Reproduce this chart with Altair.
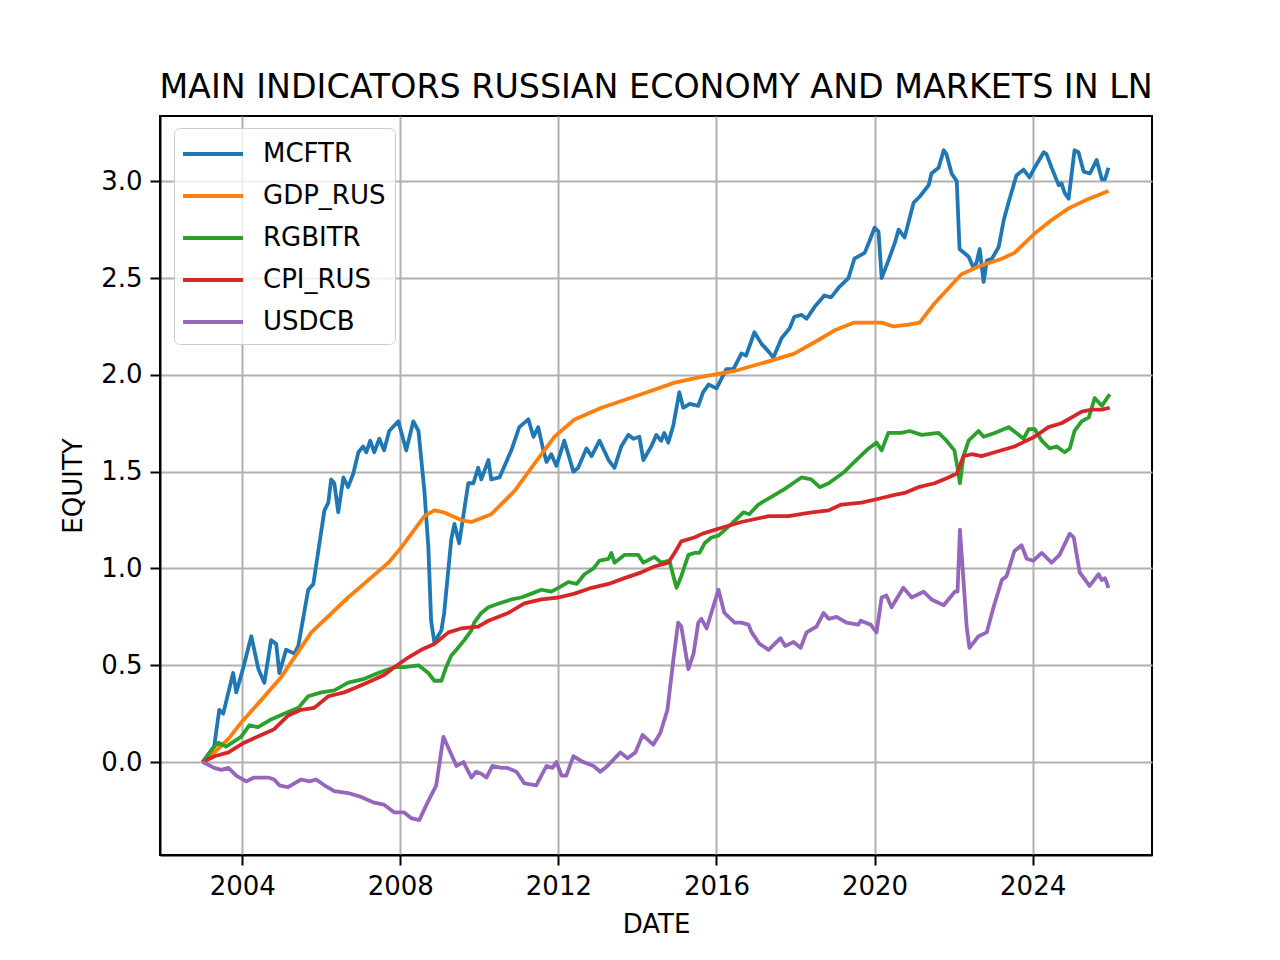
import altair as alt
import pandas as pd

SERIES = ["MCFTR", "GDP_RUS", "RGBITR", "CPI_RUS", "USDCB"]
COLORS = ["#1f77b4", "#ff7f0e", "#2ca02c", "#d62728", "#9467bd"]

MCFTR_X = [2003.0, 2003.29, 2003.42, 2003.52, 2003.77, 2003.85, 2004.03, 2004.23, 2004.41, 2004.56,
           2004.73, 2004.86, 2004.94, 2005.11, 2005.32, 2005.42, 2005.67, 2005.80, 2006.08, 2006.18,
           2006.25, 2006.33, 2006.43, 2006.56, 2006.68, 2006.81, 2006.94, 2007.06, 2007.14, 2007.24,
           2007.34, 2007.47, 2007.59, 2007.72, 2007.95, 2008.15, 2008.33, 2008.46, 2008.61, 2008.71,
           2008.78, 2008.86, 2009.04, 2009.11, 2009.29, 2009.37, 2009.49, 2009.72, 2009.85, 2009.97,
           2010.05, 2010.23, 2010.30, 2010.51, 2010.81, 2011.01, 2011.24, 2011.37, 2011.49, 2011.62,
           2011.70, 2011.82, 2011.95, 2012.15, 2012.38, 2012.50, 2012.71, 2012.84, 2013.04, 2013.27,
           2013.42, 2013.59, 2013.77, 2013.90, 2014.05, 2014.15, 2014.35, 2014.48, 2014.60, 2014.68,
           2014.78, 2014.91, 2015.06, 2015.16, 2015.32, 2015.54, 2015.66, 2015.80, 2016.0, 2016.25,
           2016.43, 2016.63, 2016.75, 2016.96, 2017.14, 2017.32, 2017.44, 2017.65, 2017.85, 2017.97,
           2018.15, 2018.28, 2018.48, 2018.73, 2018.90, 2019.09, 2019.34, 2019.49, 2019.75, 2019.87,
           2020.0, 2020.10, 2020.18, 2020.35, 2020.51, 2020.61, 2020.76, 2020.99, 2021.14, 2021.37,
           2021.44, 2021.62, 2021.75, 2021.82, 2021.95, 2022.08, 2022.15, 2022.38, 2022.51, 2022.58,
           2022.66, 2022.76, 2022.84, 2022.97, 2023.14, 2023.27, 2023.39, 2023.59, 2023.77, 2023.92,
           2024.05, 2024.28, 2024.35, 2024.48, 2024.66, 2024.73, 2024.81, 2024.91, 2025.06, 2025.16,
           2025.29, 2025.45, 2025.62, 2025.75, 2025.83, 2025.92]
MCFTR_Y = [0.0, 0.08, 0.27, 0.25, 0.46, 0.36, 0.49, 0.65, 0.48, 0.41,
           0.63, 0.61, 0.46, 0.58, 0.56, 0.60, 0.89, 0.92, 1.30, 1.34,
           1.46, 1.44, 1.29, 1.47, 1.42, 1.49, 1.60, 1.63, 1.60, 1.66,
           1.60, 1.67, 1.61, 1.71, 1.76, 1.61, 1.76, 1.71, 1.40, 1.11,
           0.73, 0.62, 0.68, 0.77, 1.15, 1.23, 1.13, 1.44, 1.44, 1.52,
           1.46, 1.56, 1.46, 1.47, 1.61, 1.73, 1.77, 1.68, 1.73, 1.61,
           1.55, 1.59, 1.53, 1.66, 1.50, 1.52, 1.62, 1.58, 1.66, 1.56,
           1.52, 1.63, 1.69, 1.67, 1.68, 1.56, 1.63, 1.69, 1.66, 1.70,
           1.65, 1.74, 1.91, 1.83, 1.85, 1.84, 1.91, 1.95, 1.93, 2.03,
           2.03, 2.11, 2.10, 2.22, 2.16, 2.12, 2.09, 2.19, 2.24, 2.30,
           2.31, 2.29, 2.35, 2.41, 2.40, 2.45, 2.50, 2.60, 2.63, 2.69,
           2.76, 2.74, 2.50, 2.59, 2.68, 2.75, 2.71, 2.89, 2.92, 2.98,
           3.04, 3.07, 3.16, 3.14, 3.04, 3.00, 2.65, 2.61, 2.55, 2.58,
           2.65, 2.48, 2.59, 2.60, 2.66, 2.80, 2.89, 3.03, 3.06, 3.02,
           3.07, 3.15, 3.14, 3.07, 2.98, 2.99, 2.94, 2.91, 3.16, 3.15,
           3.05, 3.04, 3.11, 3.01, 3.01, 3.07]

GDP_X = [2003.0, 2003.3, 2003.65, 2004.0, 2004.48, 2004.99, 2005.75, 2006.68, 2007.19, 2007.70,
         2008.03, 2008.61, 2008.86, 2009.10, 2009.54, 2009.80, 2010.30, 2010.89, 2011.39, 2011.90,
         2012.41, 2013.09, 2014.10, 2014.94, 2015.62, 2016.46, 2017.32, 2017.97, 2018.58, 2018.99,
         2019.49, 2020.18, 2020.48, 2020.86, 2021.14, 2021.52, 2022.20, 2022.63, 2023.22, 2023.54,
         2024.05, 2024.48, 2024.91, 2025.32, 2025.92]
GDP_Y = [0.0, 0.05, 0.12, 0.21, 0.32, 0.44, 0.67, 0.85, 0.94, 1.03,
         1.11, 1.27, 1.30, 1.29, 1.25, 1.24, 1.28, 1.40, 1.54, 1.68,
         1.77, 1.83, 1.90, 1.96, 1.99, 2.02, 2.07, 2.11, 2.18, 2.23,
         2.27, 2.27, 2.25, 2.26, 2.27, 2.37, 2.52, 2.56, 2.60, 2.63,
         2.73, 2.80, 2.86, 2.90, 2.95]

RGBI_X = [2003.0, 2003.25, 2003.39, 2003.59, 2003.97, 2004.18, 2004.40, 2004.73, 2005.06, 2005.42,
          2005.67, 2006.0, 2006.33, 2006.68, 2007.09, 2007.44, 2007.85, 2008.10, 2008.46, 2008.71,
          2008.86, 2009.04, 2009.16, 2009.29, 2009.42, 2009.62, 2009.80, 2009.87, 2010.05, 2010.23,
          2010.51, 2010.81, 2011.06, 2011.32, 2011.57, 2011.82, 2012.0, 2012.25, 2012.46, 2012.66,
          2012.89, 2013.04, 2013.27, 2013.34, 2013.42, 2013.67, 2014.02, 2014.15, 2014.43, 2014.60,
          2014.81, 2014.91, 2014.99, 2015.11, 2015.29, 2015.44, 2015.57, 2015.70, 2015.87, 2016.05,
          2016.38, 2016.68, 2016.83, 2017.06, 2017.39, 2017.72, 2018.15, 2018.40, 2018.61, 2018.84,
          2019.04, 2019.24, 2019.49, 2019.85, 2020.05, 2020.18, 2020.35, 2020.68, 2020.89, 2021.19,
          2021.62, 2021.82, 2022.02, 2022.10, 2022.16, 2022.25, 2022.38, 2022.63, 2022.76, 2023.04,
          2023.39, 2023.59, 2023.77, 2023.90, 2024.05, 2024.23, 2024.43, 2024.61, 2024.81, 2024.94,
          2025.06, 2025.24, 2025.42, 2025.57, 2025.75, 2025.95]
RGBI_Y = [0.0, 0.07, 0.10, 0.08, 0.13, 0.19, 0.18, 0.22, 0.25, 0.28,
          0.34, 0.36, 0.37, 0.41, 0.43, 0.46, 0.49, 0.49, 0.50, 0.46,
          0.42, 0.42, 0.49, 0.55, 0.58, 0.63, 0.68, 0.72, 0.77, 0.80,
          0.82, 0.84, 0.85, 0.87, 0.89, 0.88, 0.90, 0.93, 0.92, 0.97,
          1.00, 1.04, 1.05, 1.08, 1.03, 1.07, 1.07, 1.03, 1.06, 1.03,
          1.04, 0.96, 0.90, 0.96, 1.07, 1.08, 1.08, 1.13, 1.16, 1.17,
          1.23, 1.29, 1.28, 1.33, 1.37, 1.41, 1.47, 1.46, 1.42, 1.44,
          1.47, 1.50, 1.55, 1.62, 1.65, 1.61, 1.70, 1.70, 1.71, 1.69,
          1.70, 1.66, 1.61, 1.52, 1.44, 1.58, 1.66, 1.71, 1.68, 1.70,
          1.73, 1.70, 1.67, 1.72, 1.72, 1.66, 1.62, 1.63, 1.60, 1.62,
          1.71, 1.76, 1.78, 1.88, 1.84, 1.90]

CPI_X = [2003.0, 2003.30, 2003.65, 2004.05, 2004.48, 2004.81, 2005.16, 2005.49, 2005.82, 2006.18,
         2006.58, 2006.94, 2007.27, 2007.59, 2007.85, 2008.20, 2008.53, 2008.86, 2009.22, 2009.54,
         2009.97, 2010.23, 2010.73, 2011.14, 2011.57, 2012.0, 2012.41, 2012.84, 2013.27, 2013.67,
         2014.10, 2014.43, 2014.78, 2014.94, 2015.11, 2015.44, 2015.65, 2016.13, 2016.63, 2017.32,
         2017.82, 2018.41, 2018.84, 2019.16, 2019.67, 2020.10, 2020.51, 2020.76, 2021.11, 2021.52,
         2021.87, 2022.08, 2022.25, 2022.46, 2022.71, 2023.04, 2023.54, 2024.05, 2024.40, 2024.73,
         2024.99, 2025.24, 2025.50, 2025.75, 2025.95]
CPI_Y = [0.0, 0.03, 0.05, 0.10, 0.14, 0.17, 0.24, 0.27, 0.28, 0.34,
         0.36, 0.39, 0.42, 0.45, 0.49, 0.54, 0.58, 0.61, 0.67, 0.69,
         0.70, 0.73, 0.77, 0.82, 0.84, 0.85, 0.87, 0.90, 0.92, 0.95,
         0.98, 1.01, 1.03, 1.08, 1.14, 1.16, 1.18, 1.21, 1.24, 1.27,
         1.27, 1.29, 1.30, 1.33, 1.34, 1.36, 1.38, 1.39, 1.42, 1.44,
         1.47, 1.49, 1.58, 1.59, 1.58, 1.60, 1.63, 1.68, 1.73, 1.75,
         1.78, 1.81, 1.82, 1.82, 1.83]

USD_X = [2003.0, 2003.29, 2003.47, 2003.65, 2003.85, 2004.10, 2004.30, 2004.66, 2004.81, 2004.94,
         2005.16, 2005.32, 2005.49, 2005.70, 2005.87, 2006.08, 2006.33, 2006.68, 2007.01, 2007.34,
         2007.59, 2007.85, 2008.10, 2008.28, 2008.48, 2008.71, 2008.91, 2009.09, 2009.29, 2009.42,
         2009.60, 2009.80, 2009.92, 2010.05, 2010.18, 2010.33, 2010.56, 2010.71, 2010.94, 2011.14,
         2011.44, 2011.70, 2011.85, 2011.95, 2012.08, 2012.20, 2012.38, 2012.63, 2012.89, 2013.06,
         2013.24, 2013.57, 2013.75, 2013.95, 2014.13, 2014.40, 2014.58, 2014.76, 2014.91, 2015.03,
         2015.11, 2015.29, 2015.42, 2015.54, 2015.62, 2015.75, 2015.87, 2016.05, 2016.20, 2016.46,
         2016.63, 2016.81, 2016.89, 2017.09, 2017.32, 2017.62, 2017.74, 2017.95, 2018.13, 2018.28,
         2018.53, 2018.71, 2018.84, 2019.04, 2019.29, 2019.59, 2019.65, 2019.90, 2020.05, 2020.18,
         2020.30, 2020.43, 2020.73, 2020.94, 2021.24, 2021.44, 2021.75, 2022.03, 2022.10, 2022.16,
         2022.25, 2022.33, 2022.40, 2022.63, 2022.84, 2023.01, 2023.22, 2023.34, 2023.54, 2023.72,
         2023.85, 2024.02, 2024.23, 2024.48, 2024.68, 2024.94, 2025.04, 2025.19, 2025.44, 2025.67,
         2025.75, 2025.83, 2025.92]
USD_Y = [0.0, -0.03, -0.04, -0.03, -0.07, -0.10, -0.08, -0.08, -0.09, -0.12,
         -0.13, -0.11, -0.09, -0.10, -0.09, -0.12, -0.15, -0.16, -0.18, -0.21,
         -0.22, -0.26, -0.26, -0.29, -0.30, -0.20, -0.12, 0.13, 0.04, -0.02,
         0.0, -0.08, -0.05, -0.06, -0.08, -0.02, -0.03, -0.03, -0.05, -0.11,
         -0.12, -0.02, -0.03, 0.0, -0.07, -0.07, 0.03, 0.0, -0.02, -0.05,
         -0.02, 0.05, 0.02, 0.05, 0.14, 0.09, 0.15, 0.27, 0.53, 0.72,
         0.70, 0.48, 0.56, 0.72, 0.74, 0.69, 0.77, 0.89, 0.77, 0.72,
         0.72, 0.71, 0.67, 0.61, 0.58, 0.64, 0.60, 0.62, 0.59, 0.67,
         0.70, 0.77, 0.74, 0.75, 0.72, 0.71, 0.73, 0.71, 0.67, 0.85,
         0.86, 0.80, 0.90, 0.85, 0.88, 0.84, 0.81, 0.88, 0.88, 1.20,
         0.94, 0.70, 0.59, 0.65, 0.67, 0.80, 0.94, 0.96, 1.09, 1.12,
         1.05, 1.04, 1.08, 1.03, 1.07, 1.18, 1.16, 0.98, 0.91, 0.97,
         0.94, 0.95, 0.90]

X_TICKS = [2004, 2008, 2012, 2016, 2020, 2024]
Y_TICKS = [0.0, 0.5, 1.0, 1.5, 2.0, 2.5, 3.0]

frames = []
for name, xs, ys in [("MCFTR", MCFTR_X, MCFTR_Y), ("GDP_RUS", GDP_X, GDP_Y),
                     ("RGBITR", RGBI_X, RGBI_Y), ("CPI_RUS", CPI_X, CPI_Y),
                     ("USDCB", USD_X, USD_Y)]:
    frames.append(pd.DataFrame({"year": xs, "value": ys, "series": name,
                                "order": SERIES.index(name)}))
df = pd.concat(frames, ignore_index=True)

FONT = "DejaVu Sans"

chart = alt.Chart(df).mark_line(strokeWidth=3.8, strokeJoin="round").encode(
    x=alt.X("year:Q", scale=alt.Scale(domain=[2001.92, 2027.02], nice=False, zero=False),
            axis=alt.Axis(values=X_TICKS, format="d", title="DATE")),
    y=alt.Y("value:Q", scale=alt.Scale(domain=[-0.48, 3.337], nice=False, zero=False),
            axis=alt.Axis(values=Y_TICKS, format=".1f", title="EQUITY")),
    color=alt.Color("series:N", scale=alt.Scale(domain=SERIES, range=COLORS),
                    legend=alt.Legend(title=None, orient="none", legendX=14, legendY=12,
                                      symbolType="M-1.13,0L2.87,0", symbolSize=900,
                                      symbolStrokeWidth=4, labelOffset=46,
                                      labelFontSize=26, labelFont=FONT, labelColor="black",
                                      padding=9, rowPadding=12,
                                      strokeColor="#cccccc", fillColor="rgba(255,255,255,0.8)",
                                      cornerRadius=6)),
    detail="order:O",
).properties(
    width=992, height=739,
    title=alt.TitleParams("MAIN INDICATORS RUSSIAN ECONOMY AND MARKETS IN LN",
                          fontSize=33.3, font=FONT, fontWeight="normal", color="black",
                          anchor="middle", offset=11),
    padding={"left": 152, "top": 108, "right": 110, "bottom": 90},
    autosize=alt.AutoSizeParams(type="none"),
).configure_view(
    stroke="black", strokeWidth=2
).configure_axis(
    labelFont=FONT, labelFontSize=26, labelColor="black",
    titleFont=FONT, titleFontSize=26, titleFontWeight="normal", titleColor="black",
    grid=True, gridColor="#b0b0b0", gridWidth=2,
    domain=True, domainColor="black", domainWidth=2,
    ticks=True, tickColor="black", tickWidth=2, tickSize=10,
    labelPadding=8,
).configure_axisX(titlePadding=12).configure_axisY(titlePadding=14)

chart.save("out.html", embed_options={"renderer": "svg", "actions": False})
